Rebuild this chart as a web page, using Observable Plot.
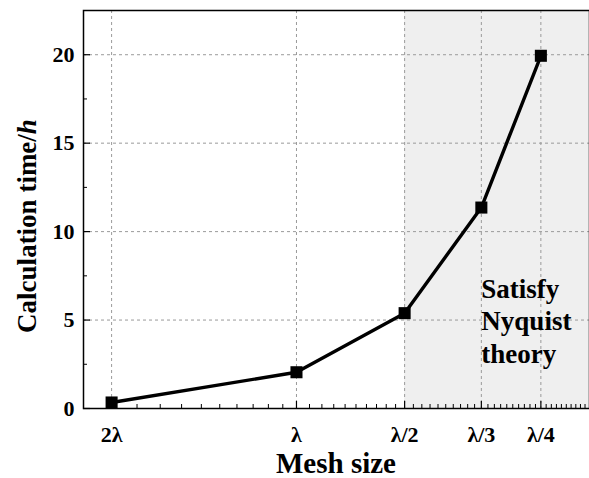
<!DOCTYPE html>
<html><head><meta charset="utf-8">
<script src="https://cdn.jsdelivr.net/npm/d3@7"></script>
<script src="https://cdn.jsdelivr.net/npm/@observablehq/plot@0.6"></script>
<style>
body{margin:0;background:#fff}
#chart svg{display:block}
#chart svg text{font-family:"Liberation Serif","Times New Roman",serif !important;font-weight:bold}
</style></head><body><div id="chart"></div>
<script>
// Mesh size categories (placed on a log axis at index 1..5)
const meshLabels = ["2λ", "λ", "λ/2", "λ/3", "λ/4"];
const meshIndex = [1, 2, 3, 4, 5];
// Calculation time in hours
const calcTime = [0.34, 2.05, 5.39, 11.36, 19.94];
const yTicks = [0, 5, 10, 15, 20];
const yMinor = [2.5, 7.5, 12.5, 17.5];
const xDomain = [0.9, 6];
const yDomain = [0, 22.5];
const nyquistStart = 3;
const noteLines = ["Satisfy", "Nyquist", "theory"];
const yTitle = ["Calculation time/", "h"];
const xTitle = "Mesh size";

const data = meshIndex.map((m, i) => ({m, t: calcTime[i], label: meshLabels[i]}));
const xMinor = d3.range(10, 60).map(d => d / 10).filter(d => !meshIndex.includes(d) && d > xDomain[0]);
const font = "Liberation Serif";

const plot = Plot.plot({
  width: 589, height: 478,
  marginLeft: 83, marginRight: 0, marginTop: 10, marginBottom: 70,
  style: {fontFamily: font, fontWeight: "bold", fontSize: "22px", background: "#fff", overflow: "visible"},
  x: {type: "log", domain: xDomain},
  y: {domain: yDomain},
  marks: [
    Plot.rect([{}], {x1: nyquistStart, x2: xDomain[1], fill: "#efefef"}),
    Plot.ruleX(meshIndex, {stroke: "#9a9a9a", strokeDasharray: "3,3", strokeWidth: 1}),
    Plot.ruleY(yTicks.filter(d => d > 0), {stroke: "#9a9a9a", strokeDasharray: "3,3", strokeWidth: 1}),
    Plot.axisX(meshIndex, {tickSize: 7, dy: -7, fill: "none", stroke: "#000", strokeWidth: 1.2, label: null}),
    Plot.axisX(xMinor, {tickSize: 4, dy: -4, fill: "none", stroke: "#000", strokeWidth: 1, label: null}),
    Plot.axisX(meshIndex, {tickSize: 0, tickPadding: 18, tickFormat: d => meshLabels[meshIndex.indexOf(d)], label: null, fontSize: 22, fontWeight: "bold", fontFamily: font, fill: "#000"}),
    Plot.axisY(yTicks, {tickSize: 7, dx: 7, fill: "none", stroke: "#000", strokeWidth: 1.2, label: null}),
    Plot.axisY(yMinor, {tickSize: 4, dx: 4, fill: "none", stroke: "#000", strokeWidth: 1, label: null}),
    Plot.axisY(yTicks, {tickSize: 0, tickPadding: 9, label: null, fontSize: 22, fontWeight: "bold", fontFamily: font, fill: "#000"}),
    Plot.frame({stroke: "#000", strokeWidth: 1.5}),
    Plot.line(data, {x: "m", y: "t", stroke: "#000", strokeWidth: 3.4}),
    Plot.dot(data, {x: "m", y: "t", symbol: "square", r: 6.8, fill: "#000", stroke: "none"}),
    Plot.text([noteLines.join("\n")], {x: meshIndex[3], y: 5, textAnchor: "start", lineAnchor: "middle", lineHeight: 1.2, fontSize: 27, fontWeight: "bold", fontFamily: font, fill: "#000"})
  ]
});

const svg = d3.select(plot);
const yt = svg.append("text")
  .attr("transform", "translate(27,226) rotate(-90)")
  .attr("text-anchor", "middle").attr("dominant-baseline", "central")
  .attr("font-size", 27).attr("font-weight", "bold").attr("font-family", font).attr("fill", "#000");
yt.append("tspan").text(yTitle[0]);
yt.append("tspan").attr("font-style", "italic").text(yTitle[1]);
svg.append("text")
  .attr("x", 336).attr("y", 463)
  .attr("text-anchor", "middle").attr("dominant-baseline", "central")
  .attr("font-size", 29).attr("font-weight", "bold").attr("font-family", font).attr("fill", "#000")
  .text(xTitle);
svg.selectAll("text").style("font-family", "'Liberation Serif', 'Times New Roman', serif");

document.getElementById("chart").appendChild(plot);
</script></body></html>
